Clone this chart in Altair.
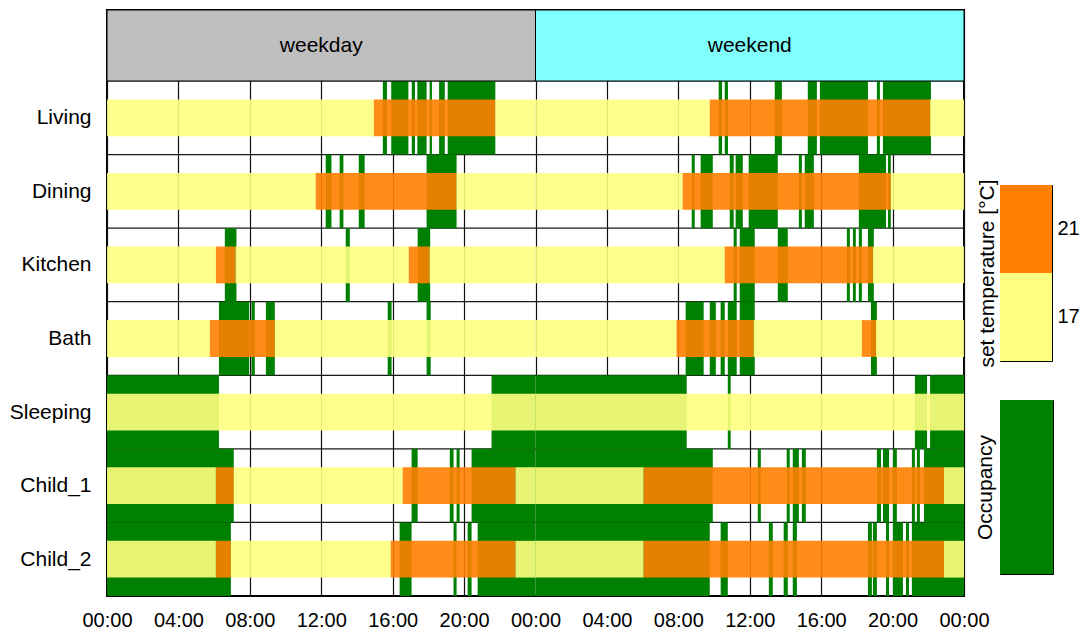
import altair as alt
import pandas as pd

FONT = "Liberation Sans"

rooms = ["Living", "Dining", "Kitchen", "Bath", "Sleeping", "Child_1", "Child_2"]
day_types = ["weekday", "weekend"]
header_colors = ["#bebebe", "#80ffff"]
hour_ticks = [0, 4, 8, 12, 16, 20, 24, 28, 32, 36, 40, 44, 48]

GREEN = "#008000"
YELLOW = "#ffff80"
ORANGE = "#ff8000"
set_temps = [17, 21]
temp_colors = [YELLOW, ORANGE]
legend_labels = ["21", "17"]
legend_temps = [21, 17]

# occupancy periods (hours) -- weekday
occ_weekday = {
    "Living": [(15.45, 15.68), (15.92, 16.88), (17.07, 17.25), (17.38, 17.9), (18.07, 18.2), (18.6, 18.92), (19.08, 21.75)],
    "Dining": [(12.25, 12.57), (13.03, 13.24), (14.1, 14.43), (17.9, 19.58)],
    "Kitchen": [(6.6, 7.25), (13.37, 13.6), (17.4, 18.1)],
    "Bath": [(6.27, 7.96), (8.09, 8.28), (8.9, 9.4), (15.72, 15.94), (17.9, 18.13)],
    "Sleeping": [(0, 6.27), (21.54, 24)],
    "Child_1": [(0, 7.1), (17.06, 17.4), (19.2, 19.41), (19.58, 19.75), (20.42, 24)],
    "Child_2": [(0, 6.94), (16.39, 17.06), (19.41, 19.58), (20.2, 20.42), (20.76, 24)],
}
# occupancy periods (hours) -- weekend
occ_weekend = {
    "Living": [(10.26, 10.45), (10.6, 10.78), (13.4, 13.8), (15.25, 15.76), (15.93, 18.62), (19.12, 19.29), (19.46, 22.15)],
    "Dining": [(8.75, 8.92), (9.25, 9.93), (10.88, 11.1), (11.21, 11.61), (11.94, 13.57), (14.75, 14.92), (15.08, 15.59), (18.11, 19.63), (19.74, 19.9)],
    "Kitchen": [(11.1, 11.27), (11.44, 12.28), (13.57, 14.13), (17.44, 17.61), (17.78, 17.94), (18.11, 18.28), (18.62, 18.95)],
    "Bath": [(8.41, 9.42), (9.76, 10.1), (10.37, 10.6), (10.77, 11.27), (11.44, 12.28), (18.79, 19.12)],
    "Sleeping": [(0, 8.47), (10.77, 10.93), (21.25, 21.93), (22.1, 24)],
    "Child_1": [(0, 9.93), (12.45, 12.62), (14.07, 14.24), (14.41, 14.75), (14.92, 15.14), (19.12, 19.35), (19.46, 19.8), (20.02, 20.24), (21.08, 21.25), (21.36, 21.53), (21.76, 24)],
    "Child_2": [(0, 9.76), (10.37, 10.77), (13.07, 13.29), (13.9, 14.13), (14.41, 14.64), (18.62, 18.84), (18.9, 19.12), (19.63, 19.8), (20.02, 20.58), (20.75, 20.92), (21.08, 24)],
}
# periods with 21 °C set temperature (otherwise 17 °C)
heat_weekday = {
    "Living": [(14.95, 21.75)],
    "Dining": [(11.69, 19.58)],
    "Kitchen": [(6.1, 7.2), (16.9, 18.07)],
    "Bath": [(5.76, 9.4)],
    "Sleeping": [],
    "Child_1": [(6.1, 7.1), (16.56, 22.88)],
    "Child_2": [(6.1, 6.94), (15.89, 22.88)],
}
heat_weekend = {
    "Living": [(9.76, 22.1)],
    "Dining": [(8.24, 19.9)],
    "Kitchen": [(10.6, 18.9)],
    "Bath": [(7.9, 12.22), (18.28, 19.07)],
    "Sleeping": [],
    "Child_1": [(6.06, 22.88)],
    "Child_2": [(6.06, 22.88)],
}

HEADER = 71 / 73.57  # header strip height in row units

occ_rows, temp_rows = [], []
for d, (occ, heat) in enumerate([(occ_weekday, heat_weekday), (occ_weekend, heat_weekend)]):
    off = 24 * d
    for r, room in enumerate(rooms):
        for s, e in occ[room]:
            occ_rows.append(dict(room=room, x0=s + off, x1=e + off, y0=r, y1=r + 1))
        t = 0.0
        for s, e in heat[room]:
            if s > t:
                temp_rows.append(dict(room=room, temp=17, x0=t + off, x1=s + off, y0=r + 0.25, y1=r + 0.75))
            temp_rows.append(dict(room=room, temp=21, x0=s + off, x1=e + off, y0=r + 0.25, y1=r + 0.75))
            t = e
        if t < 24:
            temp_rows.append(dict(room=room, temp=17, x0=t + off, x1=24 + off, y0=r + 0.25, y1=r + 0.75))

occ_df = pd.DataFrame(occ_rows)
temp_df = pd.DataFrame(temp_rows)
bound_df = pd.DataFrame({"b": list(range(len(rooms))), "xa": 0, "xb": 48})
hdr_df = pd.DataFrame({
    "day": day_types,
    "x0": [0, 24], "x1": [24, 48],
    "xc": [12, 36],
    "y0": [-HEADER, -HEADER], "y1": [0, 0], "yc": [-HEADER / 2, -HEADER / 2],
    "col": header_colors,
})

label_list = "[" + ",".join("'%s'" % r for r in rooms) + "]"
x_scale = alt.Scale(domain=[0, 48], nice=False, zero=False)
y_scale = alt.Scale(domain=[-HEADER, len(rooms)], reverse=True, nice=False, zero=False)
x_axis = alt.Axis(values=hour_ticks,
                  labelExpr="(datum.value % 24 < 10 ? '0' : '') + (datum.value % 24) + ':00'",
                  grid=True, gridColor="#111111", gridWidth=1.2, ticks=False, domain=False,
                  labelOverlap=False, labelFlush=False,
                  labelPadding=14, labelFontSize=20, labelColor="black", title=None)
y_axis = alt.Axis(values=[i + 0.5 for i in range(len(rooms))],
                  labelExpr=label_list + "[floor(datum.value)]",
                  grid=False, ticks=False, domain=False, labelPadding=16,
                  labelFontSize=21, labelColor="black", title=None)

rules = alt.Chart(bound_df).mark_rule(color="#1a1a1a", strokeWidth=1.2).encode(
    x=alt.X("xa:Q", scale=x_scale, axis=x_axis), x2="xb",
    y=alt.Y("b:Q", scale=y_scale, axis=y_axis),
)
occ_layer = alt.Chart(occ_df).mark_rect(color=GREEN).encode(
    x=alt.X("x0:Q", scale=x_scale, axis=x_axis), x2="x1",
    y=alt.Y("y0:Q", scale=y_scale, axis=y_axis), y2="y1",
)
temp_layer = alt.Chart(temp_df).mark_rect(opacity=0.9).encode(
    x=alt.X("x0:Q", scale=x_scale, axis=x_axis), x2="x1",
    y=alt.Y("y0:Q", scale=y_scale, axis=y_axis), y2="y1",
    color=alt.Color("temp:O", scale=alt.Scale(domain=set_temps, range=temp_colors), legend=None),
)
hdr_rect = alt.Chart(hdr_df).mark_rect(stroke="black", strokeWidth=1).encode(
    x=alt.X("x0:Q", scale=x_scale, axis=x_axis), x2="x1",
    y=alt.Y("y0:Q", scale=y_scale, axis=y_axis), y2="y1",
    fill=alt.Fill("col:N", scale=None),
)
hdr_text = alt.Chart(hdr_df).mark_text(fontSize=21, color="black", font=FONT).encode(
    x=alt.X("xc:Q", scale=x_scale, axis=x_axis),
    y=alt.Y("yc:Q", scale=y_scale, axis=y_axis),
    text="day:N",
)

main = alt.layer(rules, occ_layer, temp_layer, hdr_rect, hdr_text).properties(
    width=857, height=586,
    view=alt.ViewBackground(stroke="black", strokeWidth=2),
)

# legend: set temperature
leg_df = pd.DataFrame({"label": legend_labels, "temp": legend_temps, "k": "bar"})
leg_scale = alt.Scale(domain=legend_labels, paddingInner=0, paddingOuter=0)
leg_x = alt.X("k:N", axis=None, scale=alt.Scale(paddingInner=0, paddingOuter=0))
temp_rect = alt.Chart(leg_df).mark_rect().encode(
    x=leg_x,
    y=alt.Y("label:N", sort=legend_labels, scale=leg_scale,
            axis=alt.Axis(orient="right", title=None, ticks=False, domain=False,
                          labelPadding=5, labelFontSize=20, labelColor="black", labelAngle=0)),
    color=alt.Color("temp:O", scale=alt.Scale(domain=set_temps, range=temp_colors), legend=None),
)
temp_title = alt.Chart(leg_df).mark_rect(opacity=0).encode(
    x=leg_x,
    y=alt.Y("label:N", sort=legend_labels, scale=leg_scale,
            axis=alt.Axis(orient="left", title="set temperature [°C]", labels=False, ticks=False,
                          domain=False, titlePadding=3, titleFontSize=21,
                          titleFontWeight="normal", titleColor="black")),
)
temp_leg = alt.layer(temp_rect, temp_title).resolve_axis(y="independent").properties(
    width=52, height=176, view=alt.ViewBackground(stroke="black", strokeWidth=1),
)

occ_leg = alt.Chart(pd.DataFrame({"k": ["Occupancy"]})).mark_rect(color=GREEN).encode(
    x=alt.X("k:N", axis=None, scale=alt.Scale(paddingInner=0, paddingOuter=0)),
    y=alt.Y("k:N", scale=alt.Scale(paddingInner=0, paddingOuter=0),
            axis=alt.Axis(orient="left", title="Occupancy", labels=False, ticks=False, domain=False,
                          titlePadding=5, titleFontSize=21, titleFontWeight="normal", titleColor="black")),
).properties(width=53, height=174, view=alt.ViewBackground(stroke="black", strokeWidth=1))

spacer = alt.Chart(pd.DataFrame({"k": ["s"]})).mark_rect(opacity=0).encode(
    x=alt.X("k:N", axis=None), y=alt.Y("k:N", axis=None),
).properties(width=52, height=136)

legend_col = alt.vconcat(spacer, temp_leg, occ_leg, spacing=39, bounds="flush")

chart = alt.hconcat(main, legend_col, spacing=36, bounds="flush").properties(
    padding={"left": 0, "top": 0, "right": 0, "bottom": 0},
).configure(font=FONT).configure_view(stroke="transparent")

chart.save("out.html", embed_options={"renderer": "svg", "actions": False})
